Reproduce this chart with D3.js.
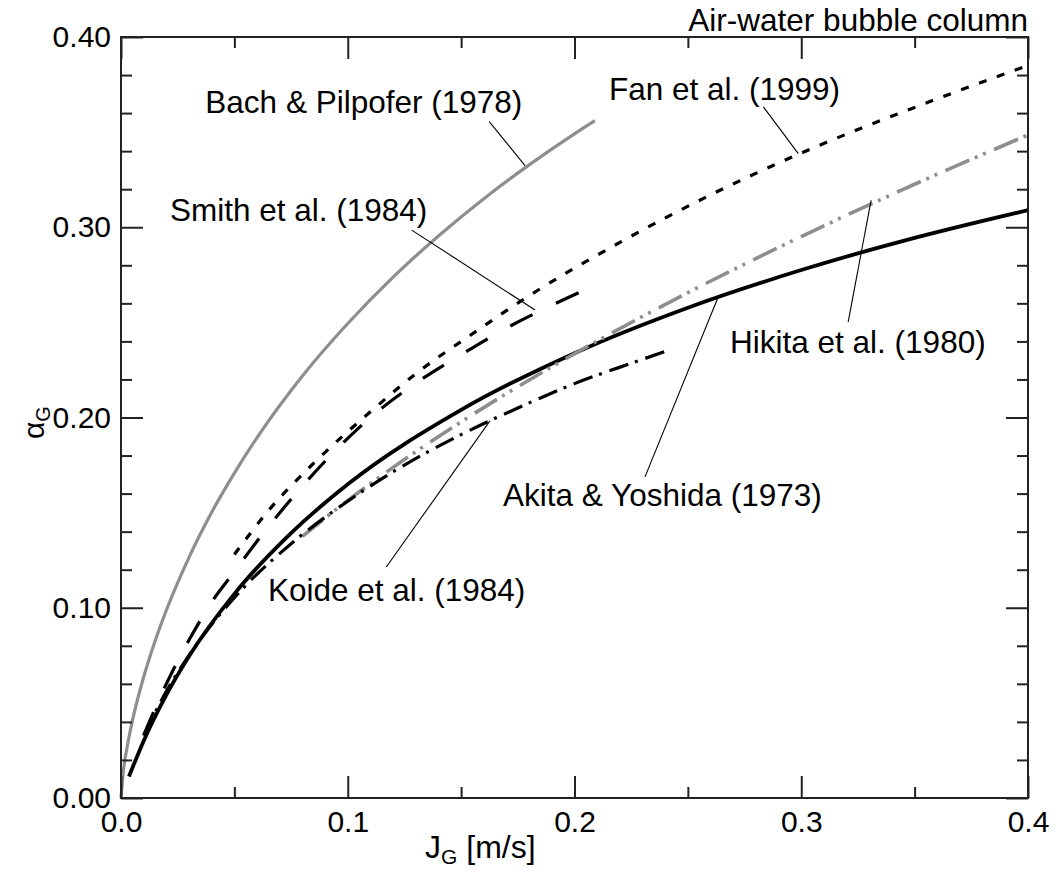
<!DOCTYPE html>
<html><head><meta charset="utf-8">
<script src="https://cdn.jsdelivr.net/npm/d3@7"></script>
<style>
body{margin:0;background:#fff;}
text{font-family:"Liberation Sans",Arial,sans-serif;fill:#000;}
</style></head>
<body><svg id="c" width="1055" height="870"></svg>
<script>
// ---- data ----
const xTicksMajor = [0.0, 0.1, 0.2, 0.3, 0.4];
const xTicksMinor = [0.05, 0.15, 0.25, 0.35];
const yTicksMajor = [0.0, 0.1, 0.2, 0.3, 0.4];
const yTicksMinor = [0.02,0.04,0.06,0.08,0.12,0.14,0.16,0.18,0.22,0.24,0.26,0.28,0.32,0.34,0.36,0.38];

const bachJ     = [0, 0.001, 0.0025, 0.005, 0.01, 0.015, 0.02, 0.03, 0.04, 0.05, 0.06, 0.08, 0.10, 0.12, 0.14, 0.16, 0.18, 0.20, 0.209];
const bachA     = [0, 0.0137, 0.0254, 0.0404, 0.0636, 0.0824, 0.0987, 0.1265, 0.1502, 0.1708, 0.1894, 0.2218, 0.2494, 0.2738, 0.2954, 0.3150, 0.3328, 0.3491, 0.356];

const fanJ      = [0.05, 0.065, 0.085, 0.11, 0.13, 0.155, 0.18, 0.22, 0.26, 0.30, 0.35, 0.40];
const fanA      = [0.128, 0.151, 0.176, 0.203, 0.223, 0.244, 0.264, 0.292, 0.317, 0.339, 0.363, 0.385];

const smithJ    = [0.01, 0.02, 0.03, 0.04, 0.05, 0.06, 0.075, 0.09, 0.11, 0.13, 0.15, 0.17, 0.19, 0.21];
const smithA    = [0.033, 0.060, 0.083, 0.103, 0.119, 0.135, 0.157, 0.177, 0.200, 0.218, 0.233, 0.247, 0.259, 0.270];

const akitaJ    = [0.0035, 0.01, 0.02, 0.03, 0.05, 0.075, 0.10, 0.15, 0.20, 0.25, 0.30, 0.35, 0.40];
const akitaA    = [0.0113, 0.0300, 0.0542, 0.0745, 0.1073, 0.1392, 0.1649, 0.2040, 0.2338, 0.2577, 0.2775, 0.2944, 0.309];

const hikitaJ   = [0.08, 0.10, 0.12, 0.15, 0.20, 0.25, 0.30, 0.35, 0.40];
const hikitaA   = [0.1375, 0.1564, 0.1738, 0.1977, 0.2335, 0.2656, 0.2951, 0.3226, 0.3485];

const koideJ    = [0.01, 0.02, 0.03, 0.05, 0.075, 0.10, 0.125, 0.15, 0.175, 0.20, 0.225, 0.242];
const koideA    = [0.0328, 0.0561, 0.075, 0.1053, 0.1336, 0.156, 0.175, 0.191, 0.205, 0.2178, 0.2285, 0.2355];

const labelNames = ["Bach & Pilpofer (1978)", "Fan et al. (1999)", "Smith et al. (1984)", "Hikita et al. (1980)", "Akita & Yoshida (1973)", "Koide et al. (1984)"];
// label anchor (text start, baseline) and leader line endpoints, in data units
const labelPos   = [[0.0372,0.3601],[0.2152,0.3669],[0.0216,0.3034],[0.2686,0.2339],[0.1685,0.1535],[0.0648,0.1036]];
const leaderFrom = [[0.1624,0.3555],[0.2833,0.3633],[0.1282,0.2985],[0.3207,0.2502],[0.2311,0.1688],[0.1170,0.1214]];
const leaderTo   = [[0.1782,0.3324],[0.2987,0.3387],[0.1826,0.2565],[0.3308,0.3142],[0.2634,0.2635],[0.1627,0.1982]];

// ---- drawing ----
const svg = d3.select("#c");
const x = d3.scaleLinear().domain([0, 0.4]).range([121, 1028]);
const y = d3.scaleLinear().domain([0, 0.4]).range([798, 37]);
const GRAY = "#8e8e8e";
const AX = "#222";

const line = d3.line().x(d => x(d[0])).y(d => y(d[1])).curve(d3.curveMonotoneX);
const zip = (a, b) => a.map((v, i) => [v, b[i]]);

const series = [
  {J: bachJ,   A: bachA,   color: GRAY, w: 3.2, dash: null},
  {J: fanJ,    A: fanA,    color: "#000", w: 3.2, dash: "8,11"},
  {J: smithJ,  A: smithA,  color: "#000", w: 3.2, dash: "25,26"},
  {J: akitaJ,  A: akitaA,  color: "#000", w: 3.8, dash: null},
  {J: hikitaJ, A: hikitaA, color: GRAY, w: 3.6, dash: "26,6,3,6,3,9"},
  {J: koideJ,  A: koideA,  color: "#000", w: 3.2, dash: "20,7,3,8"}
];

const g = svg.append("g");
series.forEach(s => {
  g.append("path").attr("d", line(zip(s.J, s.A)))
    .attr("fill", "none").attr("stroke", s.color).attr("stroke-width", s.w)
    .attr("stroke-dasharray", s.dash);
});

leaderFrom.forEach((f, i) => {
  const t = leaderTo[i];
  g.append("line").attr("x1", x(f[0])).attr("y1", y(f[1])).attr("x2", x(t[0])).attr("y2", y(t[1]))
    .attr("stroke", "#000").attr("stroke-width", 1.1);
});
labelNames.forEach((n, i) => {
  g.append("text").attr("x", x(labelPos[i][0])).attr("y", y(labelPos[i][1]))
    .attr("font-size", 31.5).text(n);
});

const fontTick = 30;
function styleAxis(sel){
  sel.select(".domain").remove();
  sel.selectAll(".tick line").attr("stroke", AX).attr("stroke-width", 2);
  sel.selectAll("text").attr("font-size", fontTick).attr("fill", "#000").style("font-family", '"Liberation Sans",Arial,sans-serif');
}
svg.append("g").attr("transform", `translate(0,${y(0)})`)
  .call(d3.axisBottom(x).tickValues(xTicksMajor).tickSizeInner(-22).tickSizeOuter(0).tickPadding(13).tickFormat(d3.format(".1f"))).call(styleAxis);
svg.append("g").attr("transform", `translate(0,${y(0)})`)
  .call(d3.axisBottom(x).tickValues(xTicksMinor).tickSizeInner(-11).tickSizeOuter(0).tickFormat("")).call(styleAxis);
svg.append("g").attr("transform", `translate(0,${y(0.4)})`)
  .call(d3.axisTop(x).tickValues(xTicksMajor).tickSizeInner(-22).tickSizeOuter(0).tickFormat("")).call(styleAxis);
svg.append("g").attr("transform", `translate(0,${y(0.4)})`)
  .call(d3.axisTop(x).tickValues(xTicksMinor).tickSizeInner(-11).tickSizeOuter(0).tickFormat("")).call(styleAxis);

svg.append("g").attr("transform", `translate(${x(0)},0)`)
  .call(d3.axisLeft(y).tickValues(yTicksMajor).tickSizeInner(-22).tickSizeOuter(0).tickPadding(10).tickFormat(d3.format(".2f"))).call(styleAxis);
svg.append("g").attr("transform", `translate(${x(0)},0)`)
  .call(d3.axisLeft(y).tickValues(yTicksMinor).tickSizeInner(-11).tickSizeOuter(0).tickFormat("")).call(styleAxis);
svg.append("g").attr("transform", `translate(${x(0.4)},0)`)
  .call(d3.axisRight(y).tickValues(yTicksMajor).tickSizeInner(-22).tickSizeOuter(0).tickFormat("")).call(styleAxis);
svg.append("g").attr("transform", `translate(${x(0.4)},0)`)
  .call(d3.axisRight(y).tickValues(yTicksMinor).tickSizeInner(-11).tickSizeOuter(0).tickFormat("")).call(styleAxis);

svg.append("rect").attr("x", x(0)).attr("y", y(0.4)).attr("width", x(0.4) - x(0)).attr("height", y(0) - y(0.4))
  .attr("fill", "none").attr("stroke", AX).attr("stroke-width", 2);

svg.append("text").attr("x", x(0.4)).attr("y", 31).attr("text-anchor", "end").attr("font-size", 31.5)
  .text("Air-water bubble column");

const xt = svg.append("text").attr("x", 425).attr("y", 858).attr("font-size", 32);
xt.append("tspan").text("J");
xt.append("tspan").attr("font-size", 21).attr("dy", 6).text("G");
xt.append("tspan").attr("dy", -6).text(" [m/s]");

const yt = svg.append("text").attr("transform", "translate(44,439) rotate(-90)").attr("font-size", 30);
yt.append("tspan").text("α");
yt.append("tspan").attr("font-size", 20).attr("dy", 6).text("G");
</script></body></html>
